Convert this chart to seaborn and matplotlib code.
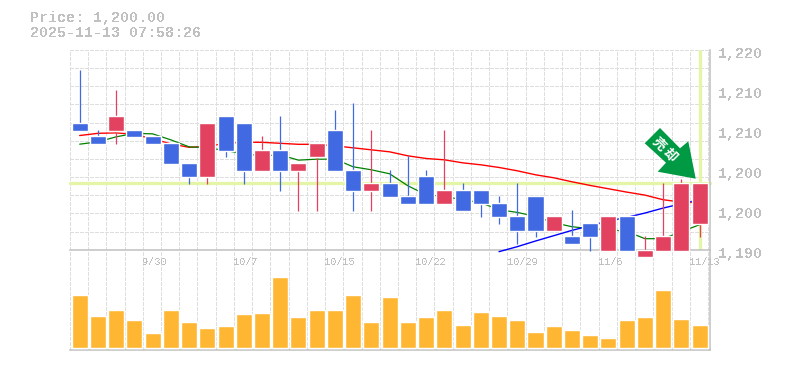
import numpy as np
import pandas as pd
import matplotlib
matplotlib.use('Agg')
import matplotlib.pyplot as plt
from matplotlib.patches import Polygon
from matplotlib.transforms import ScaledTranslation, Affine2D
import seaborn as sns

# Candle values
kinds = ['d', 'd', 'u', 'd', 'd', 'd', 'd', 'u', 'd', 'd', 'u', 'd', 'u', 'u', 'd', 'd', 'u', 'd',
         'd', 'd', 'u', 'd', 'd', 'd', 'd', 'd', 'u', 'd', 'd', 'u', 'd', 'u', 'u', 'u', 'u']
body_top = [1209.05, 1207.1, 1210.1, 1208, 1207.1, 1206.05, 1203.05, 1209.05, 1210.1, 1209.05, 1205, 1205,
            1203.05, 1206.05, 1208, 1202, 1200.05, 1200.05, 1198.1, 1201.1, 1199, 1199, 1199, 1197.05,
            1195.1, 1198.1, 1195.1, 1192.1, 1194.05, 1195.1, 1195.1, 1190, 1192.1, 1200.05, 1200.05]
body_bottom = [1207.85, 1205.9, 1207.85, 1206.95, 1205.9, 1202.9, 1200.95, 1200.95, 1204.85, 1201.85, 1201.85, 1201.85,
               1201.85, 1203.95, 1201.85, 1198.85, 1198.85, 1197.95, 1196.9, 1196.9, 1196.9, 1195.85, 1196.9, 1194.95,
               1192.85, 1192.85, 1192.85, 1190.9, 1191.95, 1189.85, 1189.85, 1188.95, 1189.85, 1189.85, 1193.9]
high = [1217, 1208, 1214, 1208, 1207.1, 1206.05, 1203.05, 1209.05, 1210.1, 1209.05, 1207.1, 1210.1,
        1203.05, 1206.05, 1211, 1212.05, 1208, 1202, 1204.1, 1202, 1208, 1200.05, 1199, 1198.1,
        1200.05, 1198.1, 1195.1, 1196, 1194.05, 1195.1, 1195.1, 1192.1, 1200.05, 1200.65, 1200.05]
low = [1207.85, 1205.9, 1205.9, 1206.95, 1205.9, 1202.9, 1199.9, 1199.9, 1203.95, 1199.9, 1201.85, 1198.85,
       1195.85, 1195.85, 1201.85, 1195.85, 1195.85, 1197.95, 1196.9, 1196.9, 1196.9, 1195.85, 1194.95, 1193.9,
       1190.9, 1191.95, 1192.85, 1190.9, 1189.85, 1189.85, 1189.85, 1188.95, 1189.85, 1189.85, 1191.95]

# Moving averages
ma_red = [1207.15, 1207.48, 1207.55, 1207.33, 1206.65, 1205.9, 1205.38, 1205.53, 1205.98, 1206.13, 1206.13, 1205.98,
          1205.83, 1205.83, 1205.6, 1205.3, 1205.0, 1204.7, 1204.1, 1203.7, 1203.5, 1203.05, 1202.75, 1202.35,
          1201.85, 1201.25, 1200.8, 1200.2, 1199.65, 1199.15, 1198.65, 1198.2, 1197.5, 1197.15, 1197.05]
ma_green = [1205.85, 1206.2, 1206.95, 1207.48, 1207.4, 1206.5, 1205.45, 1205.3, 1204.9, 1204.4, 1204.1, 1204.25,
            1203.45, 1203.6, 1203.6, 1202.45, 1202, 1201.4, 1199.6, 1198.25, 1198, 1197.5, 1197.05, 1196,
            1195.6, 1195, 1194.05, 1193.45, 1193.15, 1193, 1192.75, 1191.65, 1191.65, 1192.7, 1193.75]
ma_blue = [1189.7, 1190.45, 1191.3, 1192.1, 1192.9, 1193.6, 1194.3, 1194.85, 1195.5, 1196.25, 1196.9, 1197.5]

volume = [53, 32, 38, 28, 15, 38, 26, 20, 22, 34, 35, 71, 31, 38, 38, 53, 26, 51,
          26, 31, 38, 23, 36, 32, 28, 16, 22, 18, 13, 10, 28, 31, 58, 29, 23]

price_ticks = [1220, 1214, 1208, 1202, 1196, 1190]
price_labels = ['1,220', '1,210', '1,210', '1,200', '1,200', '1,190']
date_idx = [4, 9, 14, 19, 24, 29, 34]
date_labels = ['9/30', '10/7', '10/15', '10/22', '10/29', '11/6', '11/13']
last_price = 1200.05

BLUE = '#4169e1'
RED = '#e2425f'
GRID = '#dedede'
AXIS = '#c0c0c0'
MARK = '#e4f5a8'
W, H = 785, 370

sns.set_theme(style='white')
plt.rcParams['font.family'] = ['Liberation Mono', 'DejaVu Sans Mono']
plt.rcParams['text.antialiased'] = False

fig = plt.figure(figsize=(W / 100, H / 100), dpi=100)
ax = fig.add_axes([70 / W, 1 - 250 / H, 640 / W, 200 / H], zorder=2)
ax_vol = fig.add_axes([70 / W, 1 - 350 / H, 640 / W, 100 / H], zorder=1)

idx = np.arange(len(volume))
xlim = (-0.53, 34.57)
ylim = (1189.95, 1219.95)
grid_x = np.arange(xlim[0] - 0.01, xlim[1], 1.0)
grid_y = np.linspace(1190, 1220, 12)
dash = (0, (3, 2))

# Volume panel
df_vol = pd.DataFrame({'idx': idx, 'volume': volume})
sns.barplot(data=df_vol, x='idx', y='volume', native_scale=True, width=0.88,
            color='#ffb733', saturation=1, errorbar=None, ax=ax_vol, zorder=3)
ax_vol.set_xlim(*xlim)
ax_vol.set_ylim(-2.5, 97.5)
ax_vol.set_xlabel('')
ax_vol.set_ylabel('')
ax_vol.set_xticks([])
ax_vol.set_yticks([])
ax_vol.set_facecolor('none')
for x in grid_x:
    ax_vol.axvline(x, color=GRID, lw=0.72, ls=dash, zorder=1, antialiased=False)
for s in ['top', 'left']:
    ax_vol.spines[s].set_visible(False)
for s in ['bottom', 'right']:
    ax_vol.spines[s].set_color(AXIS)
    ax_vol.spines[s].set_linewidth(1.1)

# Price panel
ax.set_xlim(*xlim)
ax.set_ylim(*ylim)
ax.set_facecolor('none')
for x in grid_x:
    ax.axvline(x, color=GRID, lw=0.72, ls=dash, zorder=1, antialiased=False)
for y in grid_y:
    ax.axhline(y, color=GRID, lw=0.72, ls=dash, zorder=1, antialiased=False)
ax.axhline(last_price, color=MARK, lw=2.4, zorder=2, clip_on=False)
ax.axvline(34, color=MARK, lw=2.4, zorder=2, ymin=0.005, ymax=0.995)

df_ma = pd.DataFrame({'idx': idx, 'red': ma_red, 'green': ma_green})
sns.lineplot(data=df_ma, x='idx', y='red', color='#ff0000', lw=1.0, ax=ax, zorder=3, errorbar=None)
sns.lineplot(data=df_ma, x='idx', y='green', color='#008000', lw=0.9, ax=ax, zorder=3, errorbar=None)
sns.lineplot(x=idx[23:], y=ma_blue, color='#0000ff', lw=1.0, ax=ax, zorder=3, errorbar=None, clip_on=False)

colors = [RED if k == 'u' else BLUE for k in kinds]
ax.vlines(idx, low, high, colors=colors, lw=0.9, zorder=4, clip_on=False)
ax.bar(idx, np.array(body_top) - np.array(body_bottom), bottom=body_bottom, width=0.88,
       color=colors, zorder=5, clip_on=False)

ax.set_xlim(*xlim)
ax.set_ylim(*ylim)
ax.set_xlabel('')
ax.set_ylabel('')
ax.set_yticks(price_ticks)
ax.set_yticklabels(price_labels, fontsize=10.8, color=AXIS, fontweight='bold')
ax.yaxis.tick_right()
ax.tick_params(axis='y', length=0, pad=6)
for lbl in ax.get_yticklabels():
    lbl.set_transform(lbl.get_transform() + ScaledTranslation(0, -3 / 100, fig.dpi_scale_trans))
ax.set_xticks(date_idx)
ax.set_xticklabels(date_labels, fontsize=7.4, color=AXIS, ha='left')
ax.tick_params(axis='x', length=0, pad=5)
for lbl in ax.get_xticklabels():
    lbl.set_transform(lbl.get_transform() + ScaledTranslation(-10.5 / 100, 0, fig.dpi_scale_trans))
for s in ['top', 'left']:
    ax.spines[s].set_visible(False)
for s in ['bottom', 'right']:
    ax.spines[s].set_color(AXIS)
    ax.spines[s].set_linewidth(1.1)

# Badge arrow, placed in pixels from the top left corner
px = Affine2D().scale(1 / W, -1 / H).translate(0, 1) + fig.transFigure
arrow = [(660, 128), (644.7, 143.3), (666, 162.7), (657.7, 171.7), (695.7, 178.7), (688.3, 141.3), (680, 148.3)]
fig.patches.append(Polygon(arrow, closed=True, transform=px, facecolor='#009944', edgecolor='none', zorder=10))
for label, cx, cy in [('売', 658.5, 144), ('却', 669.5, 155)]:
    fig.text(cx / W, 1 - cy / H, label, color='white', fontsize=9.5, rotation=-45, ha='center', va='center',
             family=['Noto Sans CJK JP'], fontweight='bold', zorder=11, antialiased=True)

# Header
fig.text(30 / W, 1 - 18 / H, 'Price: 1,200.00', fontsize=10.8, color=AXIS, va='center', fontweight='bold')
fig.text(30 / W, 1 - 33 / H, '2025-11-13 07:58:26', fontsize=10.8, color=AXIS, va='center', fontweight='bold')

fig.savefig('out.png', dpi=100)
